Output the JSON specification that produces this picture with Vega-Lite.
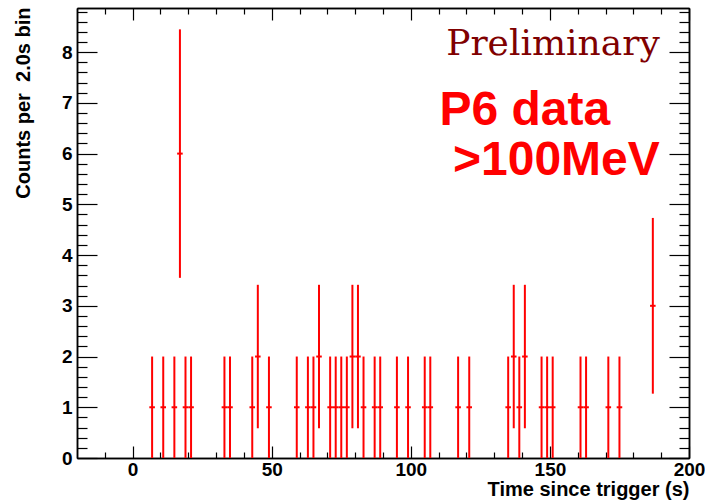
{
  "$schema": "https://vega.github.io/schema/vega-lite/v6.json",
  "width": 612,
  "height": 450,
  "autosize": {"type": "none"},
  "padding": {"left": 77, "top": 8, "right": 16, "bottom": 46},
  "background": "white",
  "config": {
    "view": {"stroke": null},
    "axis": {
      "grid": false,
      "domainColor": "black",
      "domainWidth": 1.5,
      "tickColor": "black",
      "tickWidth": 1.2,
      "labelFont": "Liberation Sans",
      "labelFontWeight": "bold",
      "labelFontSize": 19,
      "labelColor": "black",
      "labelFlush": false,
      "labelOverlap": false,
      "labelBound": false,
      "titleFont": "Liberation Sans",
      "titleFontWeight": "bold",
      "titleFontSize": 20,
      "titleColor": "black"
    }
  },
  "data": {
    "values": [
      {"t": 7, "t0": 6, "t1": 8, "n": 1, "lo": 0, "hi": 2},
      {"t": 11, "t0": 10, "t1": 12, "n": 1, "lo": 0, "hi": 2},
      {"t": 15, "t0": 14, "t1": 16, "n": 1, "lo": 0, "hi": 2},
      {"t": 17, "t0": 16, "t1": 18, "n": 6, "lo": 3.551, "hi": 8.449},
      {"t": 19, "t0": 18, "t1": 20, "n": 1, "lo": 0, "hi": 2},
      {"t": 21, "t0": 20, "t1": 22, "n": 1, "lo": 0, "hi": 2},
      {"t": 33, "t0": 32, "t1": 34, "n": 1, "lo": 0, "hi": 2},
      {"t": 35, "t0": 34, "t1": 36, "n": 1, "lo": 0, "hi": 2},
      {"t": 43, "t0": 42, "t1": 44, "n": 1, "lo": 0, "hi": 2},
      {"t": 45, "t0": 44, "t1": 46, "n": 2, "lo": 0.586, "hi": 3.414},
      {"t": 49, "t0": 48, "t1": 50, "n": 1, "lo": 0, "hi": 2},
      {"t": 59, "t0": 58, "t1": 60, "n": 1, "lo": 0, "hi": 2},
      {"t": 63, "t0": 62, "t1": 64, "n": 1, "lo": 0, "hi": 2},
      {"t": 65, "t0": 64, "t1": 66, "n": 1, "lo": 0, "hi": 2},
      {"t": 67, "t0": 66, "t1": 68, "n": 2, "lo": 0.586, "hi": 3.414},
      {"t": 71, "t0": 70, "t1": 72, "n": 1, "lo": 0, "hi": 2},
      {"t": 73, "t0": 72, "t1": 74, "n": 1, "lo": 0, "hi": 2},
      {"t": 75, "t0": 74, "t1": 76, "n": 1, "lo": 0, "hi": 2},
      {"t": 77, "t0": 76, "t1": 78, "n": 1, "lo": 0, "hi": 2},
      {"t": 79, "t0": 78, "t1": 80, "n": 2, "lo": 0.586, "hi": 3.414},
      {"t": 81, "t0": 80, "t1": 82, "n": 2, "lo": 0.586, "hi": 3.414},
      {"t": 83, "t0": 82, "t1": 84, "n": 1, "lo": 0, "hi": 2},
      {"t": 87, "t0": 86, "t1": 88, "n": 1, "lo": 0, "hi": 2},
      {"t": 89, "t0": 88, "t1": 90, "n": 1, "lo": 0, "hi": 2},
      {"t": 95, "t0": 94, "t1": 96, "n": 1, "lo": 0, "hi": 2},
      {"t": 99, "t0": 98, "t1": 100, "n": 1, "lo": 0, "hi": 2},
      {"t": 105, "t0": 104, "t1": 106, "n": 1, "lo": 0, "hi": 2},
      {"t": 107, "t0": 106, "t1": 108, "n": 1, "lo": 0, "hi": 2},
      {"t": 117, "t0": 116, "t1": 118, "n": 1, "lo": 0, "hi": 2},
      {"t": 121, "t0": 120, "t1": 122, "n": 1, "lo": 0, "hi": 2},
      {"t": 135, "t0": 134, "t1": 136, "n": 1, "lo": 0, "hi": 2},
      {"t": 137, "t0": 136, "t1": 138, "n": 2, "lo": 0.586, "hi": 3.414},
      {"t": 139, "t0": 138, "t1": 140, "n": 1, "lo": 0, "hi": 2},
      {"t": 141, "t0": 140, "t1": 142, "n": 2, "lo": 0.586, "hi": 3.414},
      {"t": 147, "t0": 146, "t1": 148, "n": 1, "lo": 0, "hi": 2},
      {"t": 149, "t0": 148, "t1": 150, "n": 1, "lo": 0, "hi": 2},
      {"t": 151, "t0": 150, "t1": 152, "n": 1, "lo": 0, "hi": 2},
      {"t": 161, "t0": 160, "t1": 162, "n": 1, "lo": 0, "hi": 2},
      {"t": 163, "t0": 162, "t1": 164, "n": 1, "lo": 0, "hi": 2},
      {"t": 171, "t0": 170, "t1": 172, "n": 1, "lo": 0, "hi": 2},
      {"t": 175, "t0": 174, "t1": 176, "n": 1, "lo": 0, "hi": 2},
      {"t": 187, "t0": 186, "t1": 188, "n": 3, "lo": 1.268, "hi": 4.732}
    ]
  },
  "layer": [
    {
      "mark": {"type": "rule", "color": "#ff0000", "strokeWidth": 2},
      "encoding": {
        "x": {
          "field": "t", "type": "quantitative",
          "scale": {"domain": [-20, 200], "nice": false, "zero": false},
          "axis": {
            "orient": "bottom", "values": [0, 50, 100, 150, 200],
            "tickSize": -12, "labelPadding": 14.5,
            "title": "Time since trigger (s)", "titleAnchor": "end", "titleAlign": "right",
            "titleBaseline": "alphabetic", "titleX": 612, "titleY": 37.7
          }
        },
        "y": {
          "field": "lo", "type": "quantitative",
          "scale": {"domain": [0, 8.87], "nice": false, "zero": false},
          "axis": {
            "orient": "left", "values": [0, 1, 2, 3, 4, 5, 6, 7, 8],
            "tickSize": -20, "labelPadding": 25,
            "title": "Counts per\u00a0 2.0s bin", "titleAnchor": "end", "titleAlign": "right",
            "titleAngle": -90, "titleBaseline": "alphabetic", "titleX": -47.5, "titleY": -1
          }
        },
        "y2": {"field": "hi"}
      }
    },
    {
      "mark": {"type": "rule", "color": "#ff0000", "strokeWidth": 2},
      "encoding": {
        "x": {
          "field": "t0", "type": "quantitative",
          "axis": {
            "orient": "bottom",
            "values": [-10, 10, 20, 30, 40, 60, 70, 80, 90, 110, 120, 130, 140, 160, 170, 180, 190],
            "tickSize": -6, "labels": false, "title": null
          }
        },
        "x2": {"field": "t1"},
        "y": {
          "field": "n", "type": "quantitative",
          "axis": {
            "orient": "left",
            "values": [0.2, 0.4, 0.6, 0.8, 1.2, 1.4, 1.6, 1.8, 2.2, 2.4, 2.6, 2.8, 3.2, 3.4, 3.6, 3.8, 4.2, 4.4, 4.6, 4.8, 5.2, 5.4, 5.6, 5.8, 6.2, 6.4, 6.6, 6.8, 7.2, 7.4, 7.6, 7.8, 8.2, 8.4, 8.6, 8.8],
            "tickSize": -10, "labels": false, "title": null
          }
        }
      }
    },
    {
      "mark": {"type": "rule", "color": "#ff0000", "strokeOpacity": 0},
      "encoding": {
        "x": {
          "field": "t", "type": "quantitative",
          "axis": {"orient": "top", "values": [0, 50, 100, 150, 200], "tickSize": -12, "labels": false, "title": null}
        },
        "y": {
          "field": "lo", "type": "quantitative",
          "axis": {"orient": "right", "values": [0, 1, 2, 3, 4, 5, 6, 7, 8], "tickSize": -20, "labels": false, "title": null}
        },
        "y2": {"field": "hi"}
      }
    },
    {
      "mark": {"type": "rule", "color": "#ff0000", "strokeOpacity": 0},
      "encoding": {
        "x": {
          "field": "t", "type": "quantitative",
          "axis": {
            "orient": "top",
            "values": [-10, 10, 20, 30, 40, 60, 70, 80, 90, 110, 120, 130, 140, 160, 170, 180, 190],
            "tickSize": -6, "labels": false, "title": null
          }
        },
        "y": {
          "field": "lo", "type": "quantitative",
          "axis": {
            "orient": "right",
            "values": [0.2, 0.4, 0.6, 0.8, 1.2, 1.4, 1.6, 1.8, 2.2, 2.4, 2.6, 2.8, 3.2, 3.4, 3.6, 3.8, 4.2, 4.4, 4.6, 4.8, 5.2, 5.4, 5.6, 5.8, 6.2, 6.4, 6.6, 6.8, 7.2, 7.4, 7.6, 7.8, 8.2, 8.4, 8.6, 8.8],
            "tickSize": -10, "labels": false, "title": null
          }
        },
        "y2": {"field": "hi"}
      }
    },
    {
      "data": {"values": [{"label": "Preliminary"}]},
      "mark": {"type": "text", "font": "DejaVu Serif", "fontSize": 36, "color": "#800000", "align": "right", "baseline": "alphabetic"},
      "encoding": {
        "text": {"field": "label"},
        "x": {"datum": 189.5, "type": "quantitative", "axis": null},
        "y": {"datum": 7.94, "type": "quantitative", "axis": null}
      }
    },
    {
      "data": {"values": [{"label": "P6 data"}]},
      "mark": {"type": "text", "font": "Liberation Sans", "fontWeight": "bold", "fontSize": 48, "color": "#ff0000", "align": "left", "baseline": "alphabetic"},
      "encoding": {
        "text": {"field": "label"},
        "x": {"datum": 110.3, "type": "quantitative", "axis": null},
        "y": {"datum": 6.56, "type": "quantitative", "axis": null}
      }
    },
    {
      "data": {"values": [{"label": ">100MeV"}]},
      "mark": {"type": "text", "font": "Liberation Sans", "fontWeight": "bold", "fontSize": 48, "color": "#ff0000", "align": "right", "baseline": "alphabetic"},
      "encoding": {
        "text": {"field": "label"},
        "x": {"datum": 189.5, "type": "quantitative", "axis": null},
        "y": {"datum": 5.58, "type": "quantitative", "axis": null}
      }
    }
  ],
  "resolve": {"axis": {"x": "independent", "y": "independent"}}
}
